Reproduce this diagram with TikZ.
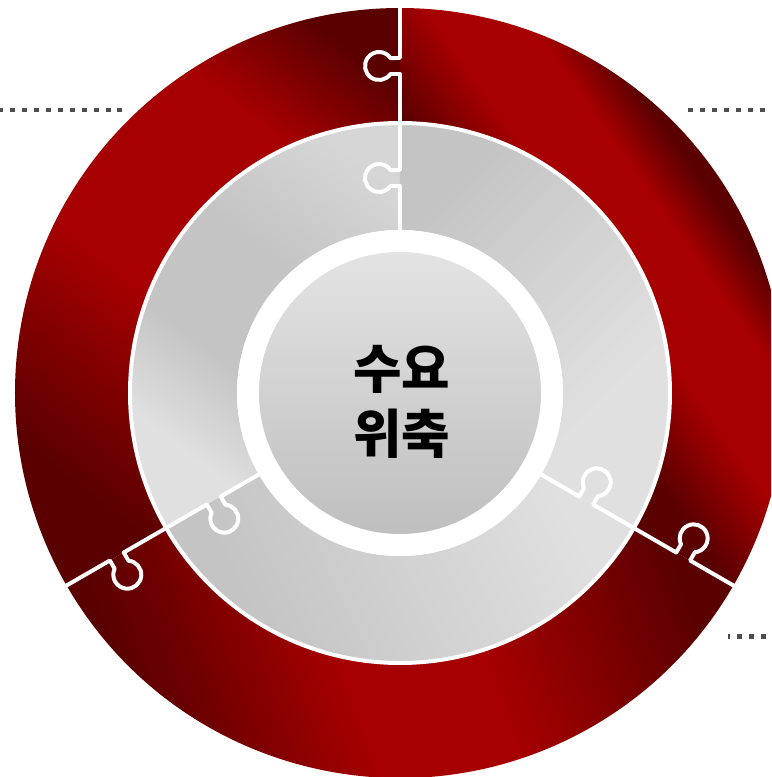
\documentclass[tikz,border=0pt]{standalone}
\usepackage{fontspec}
\newfontfamily\krfont{Noto Sans CJK KR}
\usepackage{tikz}
\usetikzlibrary{positioning}

\definecolor{redDeep}{HTML}{5A0000}
\definecolor{redDim}{HTML}{6C0000}
\definecolor{redMid}{HTML}{7E0000}
\definecolor{redBright}{HTML}{A60000}
\definecolor{grayDeep}{HTML}{C4C4C4}
\definecolor{grayMid}{HTML}{D6D6D6}
\definecolor{grayPale}{HTML}{E0E0E0}
\definecolor{coreTop}{HTML}{E3E3E3}
\definecolor{coreBottom}{HTML}{BFBFBF}
\definecolor{dotGray}{HTML}{4D4D4D}

% bands: 25bp..75bp spans -400..400 px across the ring
\pgfdeclarehorizontalshading{redTopLeft}{100bp}{color(0bp)=(redDeep); color(35bp)=(redDeep); color(42bp)=(redBright); color(55bp)=(redBright); color(61bp)=(redMid); color(67bp)=(redDeep); color(100bp)=(redDeep)}
\pgfdeclarehorizontalshading{redRight}{100bp}{color(0bp)=(redDeep); color(60bp)=(redDeep); color(65bp)=(redBright); color(70bp)=(redBright); color(73.1bp)=(redDeep); color(100bp)=(redDeep)}
\pgfdeclarehorizontalshading{redBottom}{100bp}{color(0bp)=(redDeep); color(27.5bp)=(redDeep); color(31.25bp)=(redDim); color(40.6bp)=(redBright); color(49.4bp)=(redBright); color(62.5bp)=(redDeep); color(100bp)=(redDeep)}
\pgfdeclarehorizontalshading{grayTopLeft}{100bp}{color(0bp)=(grayMid); color(40bp)=(grayMid); color(48bp)=(grayDeep); color(55bp)=(grayDeep); color(61bp)=(grayPale); color(100bp)=(grayPale)}
\pgfdeclarehorizontalshading{grayRight}{100bp}{color(0bp)=(grayDeep); color(43.1bp)=(grayDeep); color(59.4bp)=(grayPale); color(100bp)=(grayPale)}
\pgfdeclarehorizontalshading{grayBottom}{100bp}{color(0bp)=(grayDeep); color(35.6bp)=(grayDeep); color(56.25bp)=(grayPale); color(100bp)=(grayPale)}

\tikzset{
  cut/.style={draw=white, line width=3.4pt, line join=round},
  leader/.style={draw=dotGray, line width=4.2pt, dash pattern=on 4.25pt off 5.95pt},
}

\begin{document}
\begin{tikzpicture}[x=0.03cm, y=0.03cm]
  \useasboundingbox (-400,-384) rectangle (371,393);
  \clip (-400,-384) rectangle (371,393);

  % Outer ring
  \foreach \from/\to/\ang/\shd in {90/210/232/redTopLeft, -30/90/35/redRight, 210/330/20/redBottom}{
    \begin{scope}
      \clip (\from:385) arc[start angle=\from, end angle=\to, radius=385] -- (\to:270) arc[start angle=\to, end angle=\from, radius=270] -- cycle;
      \begin{scope}[transform canvas={rotate=\ang}]
        \shade[shading=\shd] (-400,-400) rectangle (400,400);
      \end{scope}
    \end{scope}
  }

  % Inner ring
  \foreach \from/\to/\ang/\shd in {90/210/233/grayTopLeft, -30/90/-45/grayRight, 210/330/26/grayBottom}{
    \begin{scope}
      \clip (\from:270) arc[start angle=\from, end angle=\to, radius=270] -- (\to:163) arc[start angle=\to, end angle=\from, radius=163] -- cycle;
      \begin{scope}[transform canvas={rotate=\ang}]
        \shade[shading=\shd] (-400,-400) rectangle (400,400);
      \end{scope}
    \end{scope}
  }

  % Seams
  \draw[cut] (0,0) circle (270);
  \foreach \a in {90,210,330}{
    \draw[cut, rotate=\a] (163,0) -- (207,0) -- (207,9.5) arc[start angle=235.2, end angle=-55.2, radius=14] -- (223,0)
      -- (319,0) -- (319,9.5) arc[start angle=235.2, end angle=-55.2, radius=14] -- (335,0) -- (388,0);
  }

  % Core
  \fill[white] (0,0) circle (163);
  \node[circle, inner sep=0pt, minimum size=8.46cm, top color=coreTop, bottom color=coreBottom] (core) at (0,0) {};
  \node[align=center, font=\krfont\bfseries\fontsize{45pt}{55pt}\selectfont] (coreText) at (2,-9) {수요\\위축};

  % Leaders
  \coordinate (lead1a) at (-402,283);
  \coordinate (lead1b) at (-276,283);
  \coordinate (lead2a) at (288,283);
  \coordinate (lead2b) at (380,283);
  \coordinate (lead3a) at (328,-243.5);
  \coordinate (lead3b) at (380,-243.5);
  \draw[leader] (lead1a) -- (lead1b);
  \draw[leader] (lead2a) -- (lead2b);
  \draw[leader, dash phase=2.55pt] (lead3a) -- (lead3b);
\end{tikzpicture}
\end{document}
